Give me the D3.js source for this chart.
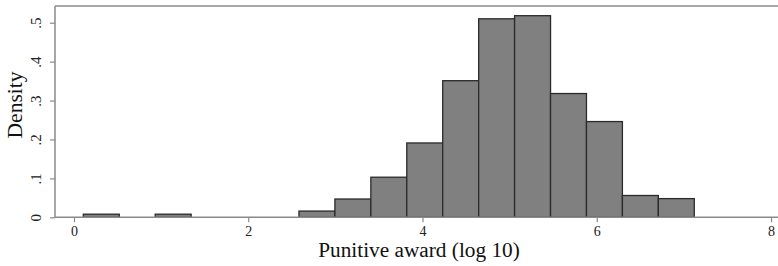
<!DOCTYPE html>
<html><head><meta charset="utf-8">
<script src="https://cdn.jsdelivr.net/npm/d3@7"></script>
<style>body{margin:0;background:#fff}svg{display:block}</style>
</head><body>
<script>
const binStart = 0.107;
const binWidth = 0.4125;
const densities = [0.008, 0, 0.008, 0, 0, 0, 0.016, 0.047, 0.103, 0.191, 0.351, 0.510, 0.518, 0.318, 0.246, 0.056, 0.048];
const xTicks = [0, 2, 4, 6, 8];
const yTicks = [0, 0.1, 0.2, 0.3, 0.4, 0.5];
const yTickLabels = ["0", ".1", ".2", ".3", ".4", ".5"];
const xTitle = "Punitive award (log 10)";
const yTitle = "Density";

(function(){
const W = 778, H = 266;
const svg = d3.select("body").append("svg").attr("width", W).attr("height", H);
const x = d3.scaleLinear().domain([0, 8]).range([74, 771]);
const y = d3.scaleLinear().domain([0, 0.5]).range([217.3, 22.7]);
const plotLeft = 55, plotTop = 6, plotBottom = y(0);
const font = "'Liberation Serif', 'Times New Roman', serif";

const bins = densities.map((d, i) => ({x0: binStart + i * binWidth, x1: binStart + (i + 1) * binWidth, d})).filter(b => b.d > 0);

svg.append("line").attr("x1", plotLeft).attr("x2", W).attr("y1", plotTop).attr("y2", plotTop)
  .attr("stroke", "#8a8a8a").attr("stroke-width", 1.5);

svg.append("g").selectAll("rect").data(bins).join("rect")
  .attr("x", b => x(b.x0)).attr("width", b => x(b.x1) - x(b.x0))
  .attr("y", b => y(b.d)).attr("height", b => y(0) - y(b.d))
  .attr("fill", "#808080").attr("stroke", "#2a2a2a").attr("stroke-width", 1.3);

const ya = svg.append("g").attr("transform", `translate(${plotLeft},0)`)
  .call(d3.axisLeft(y).tickValues(yTicks).tickFormat((d, i) => yTickLabels[i]).tickSize(5));
ya.select(".domain").attr("d", `M0,${plotTop}V${plotBottom}`).attr("stroke", "#8a8a8a").attr("stroke-width", 1.5);
ya.selectAll(".tick line").attr("stroke", "#8a8a8a").attr("stroke-width", 1.2);
ya.selectAll(".tick text").attr("font-family", font).attr("font-size", 15).attr("fill", "#222")
  .attr("x", 0).attr("y", 0).attr("dy", "0.35em").attr("text-anchor", "middle")
  .attr("transform", "translate(-19,0) rotate(-90)");

const xa = svg.append("g").attr("transform", `translate(0,${plotBottom})`)
  .call(d3.axisBottom(x).tickValues(xTicks).tickFormat(d3.format("d")).tickSize(5).tickPadding(4));
xa.select(".domain").attr("d", `M${plotLeft},0H${W}`).attr("stroke", "#8a8a8a").attr("stroke-width", 1.5);
xa.selectAll(".tick line").attr("stroke", "#8a8a8a").attr("stroke-width", 1.2);
xa.selectAll(".tick text").attr("font-family", font).attr("font-size", 14).attr("fill", "#222");

svg.append("text").attr("x", 419).attr("y", 257).attr("text-anchor", "middle")
  .attr("font-family", font).attr("font-size", 21.3).attr("fill", "#111").text(xTitle);
svg.append("text").attr("transform", `translate(22,105) rotate(-90)`).attr("text-anchor", "middle")
  .attr("font-family", font).attr("font-size", 21.5).attr("fill", "#111").text(yTitle);
})();
</script>
</body></html>
